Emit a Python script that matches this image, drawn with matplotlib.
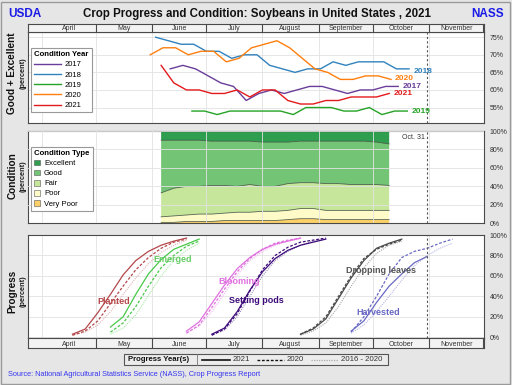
import matplotlib
matplotlib.use('Agg')
import matplotlib.pyplot as plt
import numpy as np
import pandas as pd
from matplotlib.patches import Rectangle
from matplotlib.lines import Line2D

plt.rcParams['font.family'] = ['Liberation Sans', 'DejaVu Sans']

# ---------------- data ----------------
# Good + Excellent condition (%), weekly, plotted on the 2021 calendar
ge_start = {'2017': '2021-06-11', '2018': '2021-06-03', '2019': '2021-06-23',
            '2020': '2021-05-31', '2021': '2021-06-06'}
ge_2017 = [66, 67, 66, 64, 62, 61, 57, 59, 60, 59, 60, 61, 61, 60, 59, 60, 60, 61, 61]
ge_2018 = [75, 74, 73, 73, 71, 71, 69, 70, 70, 67, 66, 65, 66, 66, 68, 67, 68, 68, 68, 66, 66]
ge_2019 = [54, 54, 53, 54, 54, 54, 54, 54, 53, 55, 55, 55, 54, 54, 55, 53, 54, 54]
ge_2020 = [70, 72, 72, 70, 71, 71, 68, 69, 72, 73, 74, 72, 69, 66, 65, 63, 63, 64, 64, 63]
ge_2021 = [67, 62, 60, 60, 59, 59, 60, 58, 60, 60, 57, 56, 56, 57, 57, 58, 58, 58, 59]

# 2021 condition categories (%), weekly from Jun 6
cond_start = '2021-06-06'
cond_vp = [1, 1, 2, 2, 2, 3, 3, 3, 3, 3, 4, 5, 5, 4, 4, 4, 4, 4, 4]
cond_p = [6, 7, 7, 8, 8, 8, 9, 9, 10, 10, 10, 11, 11, 10, 10, 10, 10, 10, 10]
cond_f = [26, 30, 31, 30, 31, 30, 28, 30, 27, 27, 29, 28, 28, 29, 29, 28, 28, 28, 27]
cond_e = [10, 10, 10, 10, 11, 11, 11, 11, 12, 12, 12, 11, 11, 11, 11, 11, 11, 12, 14]
cond_g = [g - e for g, e in zip(ge_2021, cond_e)]

# Progress (%), weekly
prog_start = {'Planted': '2021-04-18', 'Emerged': '2021-05-09', 'Blooming': '2021-06-20',
              'Setting pods': '2021-07-04', 'Dropping leaves': '2021-08-22',
              'Harvested': '2021-09-19'}
planted_2021 = [3, 8, 24, 42, 61, 75, 84, 90, 94, 97]
planted_2020 = [2, 6, 16, 33, 50, 66, 78, 87, 93, 96]
planted_avg = [2, 5, 12, 25, 42, 58, 72, 83, 90, 95]
emerged_2021 = [10, 20, 42, 62, 76, 86, 91, 96]
emerged_2020 = [5, 14, 30, 50, 68, 80, 89, 94]
emerged_avg = [3, 9, 22, 41, 60, 75, 85, 92]
blooming_2021 = [6, 15, 33, 51, 67, 78, 86, 91, 94, 97]
blooming_2020 = [4, 12, 29, 47, 64, 77, 86, 92, 95, 97]
blooming_avg = [4, 11, 25, 43, 61, 75, 84, 90, 94, 96]
pods_2021 = [3, 9, 25, 46, 64, 77, 85, 90, 93, 96]
pods_2020 = [2, 8, 23, 45, 66, 80, 88, 93, 95, 97]
pods_avg = [2, 7, 20, 40, 60, 75, 84, 90, 94, 96]
leaves_2021 = [3, 8, 18, 38, 58, 75, 87, 92, 96]
leaves_2020 = [3, 9, 20, 40, 60, 77, 86, 91, 95]
leaves_avg = [2, 6, 14, 30, 50, 68, 82, 90, 94]
harvest_2021 = [6, 16, 34, 50, 62, 73, 79]
harvest_2020 = [5, 20, 40, 62, 78, 84, 87, 92, 96]
harvest_avg = [4, 12, 25, 40, 56, 70, 80, 87, 92]

months = ['April', 'May', 'June', 'July', 'August', 'September', 'October', 'November']
latest = '2021-10-31'

# ---------------- helpers ----------------
W, H = 512, 385
XL = (83.6, 335.4)


def weekly(start, n):
    return pd.date_range(start, periods=n, freq='7D').dayofyear.values


def doy(s):
    return pd.Timestamp(s).dayofyear


month_starts = [doy(f'2021-{m:02d}-01') for m in range(4, 12)] + [doy('2021-12-01')]
latest_d = doy(latest)


def rect(top, bottom, left=28.3, right=484):
    return [left / W, 1 - bottom / H, (right - left) / W, (bottom - top) / H]


fig = plt.figure(figsize=(5.12, 3.85), dpi=100, facecolor='#e6e6e6')
fig.patches.append(Rectangle((1 / W, 1 / H), 1 - 3 / W, 1 - 3 / H, transform=fig.transFigure,
                             fill=False, ec='#9a9a9a', lw=1.0))

SP = '#4a4a4a'


def style_panel(ax, yt, ylab):
    ax.set_xlim(XL)
    ax.set_xticks(month_starts[:-1])
    ax.set_xticklabels([])
    ax.yaxis.tick_right()
    ax.set_yticks(yt)
    ax.set_yticklabels(ylab)
    ax.tick_params(axis='y', length=0, pad=4, labelsize=5, labelcolor='#333333')
    ax.tick_params(axis='x', length=0)
    ax.grid(True, color='#e2e2e2', lw=0.6)
    for s in ax.spines.values():
        s.set_color(SP)
        s.set_linewidth(0.8)
    ax.axvline(latest_d, color='#555555', lw=0.8, ls=(0, (2, 2)), zorder=3)


def month_strip(ax):
    ax.set_xlim(XL)
    ax.set_ylim(0, 1)
    ax.set_facecolor('#f3f3f3')
    ax.set_xticks([])
    ax.set_yticks([])
    for s in ax.spines.values():
        s.set_color(SP)
        s.set_linewidth(0.8)
    for i, name in enumerate(months):
        a = max(month_starts[i], XL[0])
        b = min(month_starts[i + 1], XL[1])
        ax.text((a + b) / 2, 0.42, name, ha='center', va='center', fontsize=5, color='#333333')
        if month_starts[i + 1] < XL[1]:
            ax.axvline(month_starts[i + 1], color=SP, lw=0.8)


# ---------------- top: good + excellent ----------------
ax1 = fig.add_axes(rect(32.3, 123))
style_panel(ax1, [55, 60, 65, 70, 75], ['55%', '60%', '65%', '70%', '75%'])
ax1.set_ylim(50.6, 76.4)
strip1 = fig.add_axes(rect(24, 32.3))
month_strip(strip1)

ycol = {'2017': '#6a3d9a', '2018': '#3182bd', '2019': '#24a324', '2020': '#ff7f0e', '2021': '#e31a1c'}
yvals = {'2017': ge_2017, '2018': ge_2018, '2019': ge_2019, '2020': ge_2020, '2021': ge_2021}
ydy = {'2017': 0, '2018': -2, '2019': 0, '2020': 0.3, '2021': -0.3}
for yr in ['2017', '2018', '2019', '2020', '2021']:
    d = weekly(ge_start[yr], len(yvals[yr]))
    ax1.plot(d, yvals[yr], color=ycol[yr], lw=1.0, label=yr)
    ax1.annotate(yr, (d[-1], yvals[yr][-1]), xytext=(3, ydy[yr]), textcoords='offset points',
                 ha='left', va='center', fontsize=6.0, fontweight='bold', color=ycol[yr])
leg1 = ax1.legend(title='Condition Year', loc='upper left', bbox_to_anchor=(0.006, 0.824),
                  borderaxespad=0, fontsize=5.5, title_fontproperties={'weight': 'bold', 'size': 5.6},
                  handlelength=3.5, labelspacing=0.37, fancybox=False, edgecolor='#999999',
                  framealpha=1, borderpad=0.4, handletextpad=0.5, alignment='left')
leg1.get_frame().set_linewidth(0.8)

# ---------------- middle: condition ----------------
ax2 = fig.add_axes(rect(131, 223.3))
style_panel(ax2, [0, 20, 40, 60, 80, 100], ['0%', '20%', '40%', '60%', '80%', '100%'])
ax2.set_ylim(0, 100)
ax2.set_axisbelow(False)
cd = weekly(cond_start, len(cond_vp))
ccols = ['#fdd16a', '#fffbc8', '#c6e79b', '#74c476', '#2f9e4f']
clabels = ['Very Poor', 'Poor', 'Fair', 'Good', 'Excellent']
layers = [cond_vp, cond_p, cond_f, cond_g, cond_e]
polys = ax2.stackplot(cd, *layers, colors=ccols, lw=0)
cum = np.cumsum(np.array(layers, dtype=float), axis=0)
for row in cum[:-1]:
    ax2.plot(cd, row, color='#3d4d3d', lw=0.6, alpha=0.85)
ax2.text(latest_d - 1.5, 97, 'Oct. 31', ha='right', va='top', fontsize=5, color='#333333')
handles = [Rectangle((0, 0), 1, 1, fc=c, ec='#555555', lw=0.4) for c in ccols][::-1]
leg2 = ax2.legend(handles, clabels[::-1], title='Condition Type', loc='upper left',
                  bbox_to_anchor=(0.006, 0.827), borderaxespad=0, fontsize=5.5,
                  title_fontproperties={'weight': 'bold', 'size': 5.6},
                  handlelength=0.8, handleheight=0.8, labelspacing=0.33, fancybox=False,
                  edgecolor='#999999', framealpha=1, borderpad=0.4, handletextpad=0.5,
                  alignment='left')
leg2.get_frame().set_linewidth(0.8)

# ---------------- bottom: progress ----------------
ax3 = fig.add_axes(rect(235, 338.3))
style_panel(ax3, [0, 20, 40, 60, 80, 100], ['0%', '20%', '40%', '60%', '80%', '100%'])
ax3.set_ylim(-1, 100)
strip3 = fig.add_axes(rect(338.3, 348.3))
month_strip(strip3)

acts = [
    ('Planted', planted_2021, planted_2020, planted_avg, '#b4474a', '#e3b3b5', (130.6, 34.8)),
    ('Emerged', emerged_2021, emerged_2020, emerged_avg, '#48c848', '#a9e6a9', (163.5, 75.6)),
    ('Blooming', blooming_2021, blooming_2020, blooming_avg, '#e070e0', '#f2b4f2', (200.3, 55.0)),
    ('Setting pods', pods_2021, pods_2020, pods_avg, '#3d0a7a', '#9a8cba', (209.9, 35.5)),
    ('Dropping leaves', leaves_2021, leaves_2020, leaves_avg, '#484848', '#a8a8a8', (278.4, 65.1)),
    ('Harvested', harvest_2021, harvest_2020, harvest_avg, '#6868c4', '#b4b4e2', (277.0, 24.7)),
]
for name, v21, v20, vav, col, light, (tx, ty) in acts:
    st = prog_start[name]
    ax3.plot(weekly(st, len(vav)), vav, color=light, lw=0.8, ls=(0, (1, 1)))
    ax3.plot(weekly(st, len(v20)), v20, color=col, lw=0.9, ls=(0, (2.2, 1.4)))
    ax3.plot(weekly(st, len(v21)), v21, color=col, lw=0.9)
    tcol = {'Emerged': '#66cc66', 'Planted': '#b5484b', 'Dropping leaves': '#555555'}.get(name, col)
    ax3.text(tx, ty, name, ha='center', va='center', fontsize=6.5, fontweight='bold', color=tcol)

# ---------------- labels & titles ----------------
def fx(p):
    return p / W


def fy(p):
    return 1 - p / H


fig.text(fx(257), fy(14), 'Crop Progress and Condition: Soybeans in United States , 2021',
         ha='center', va='center', fontsize=8.3, fontweight='bold', color='#111111')
fig.text(fx(8), fy(14), 'USDA', ha='left', va='center', fontsize=8.5, fontweight='bold', color='#1a1ae6')
fig.text(fx(504), fy(14), 'NASS', ha='right', va='center', fontsize=8.5, fontweight='bold', color='#1a1ae6')

for yc, lab in [(73.5, 'Good + Excellent'), (176, 'Condition'), (291.5, 'Progress')]:
    fig.text(fx(12.5), fy(yc), lab, rotation=90, ha='center', va='center', fontsize=7.2,
             fontweight='bold', color='#111111')
    fig.text(fx(23.5), fy(yc), '(percent)', rotation=90, ha='center', va='center', fontsize=5.3,
             fontweight='bold', color='#222222')

# progress legend (horizontal, drawn at figure level)
fig.patches.append(Rectangle((fx(124.3), fy(365)), (388.3 - 124.3) / W, 10.7 / H,
                             transform=fig.transFigure, fc='#ececec', ec='#555555', lw=0.8))
fig.lines.append(Line2D([fx(197), fx(197)], [fy(365), fy(354.3)], transform=fig.transFigure,
                        color='#777777', lw=0.6))
ly = fy(359.7)
fig.text(fx(128), ly, 'Progress Year(s)', ha='left', va='center', fontsize=5.6, fontweight='bold',
         color='#111111')
for x0, x1, ls, col, lw, lab in [(202, 230, '-', '#111111', 1.2, '2021'),
                                 (257, 284, (0, (2, 1.2)), '#111111', 1.0, '2020'),
                                 (311, 338, (0, (1, 1)), '#aaaaaa', 0.9, '2016 - 2020')]:
    fig.lines.append(Line2D([fx(x0), fx(x1)], [ly, ly], transform=fig.transFigure,
                            color=col, lw=lw, ls=ls))
    fig.text(fx(x1 + 3), ly, lab, ha='left', va='center', fontsize=5.6, color='#333333')

fig.text(fx(8), fy(374), 'Source: National Agricultural Statistics Service (NASS), Crop Progress Report',
         ha='left', va='center', fontsize=5.3, color='#3535f0')

fig.savefig('out.png', dpi=100, facecolor=fig.get_facecolor())
